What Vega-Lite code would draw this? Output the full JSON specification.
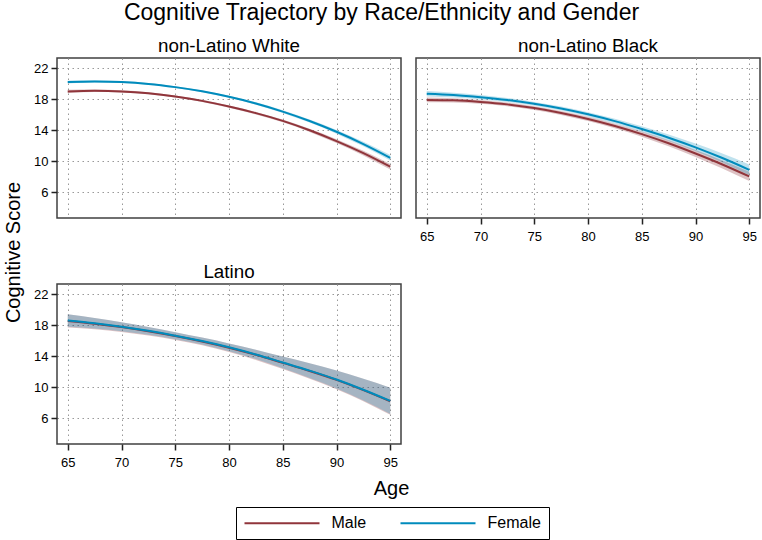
{
  "$schema": "https://vega.github.io/schema/vega-lite/v6.json",
  "padding": {"left": 2, "top": 2, "right": 0, "bottom": 0},
  "title": {"text": "Cognitive Trajectory by Race/Ethnicity and Gender", "fontSize": 23, "fontWeight": "normal", "anchor": "middle", "offset": 11, "color": "#000"},
  "data": {"values": [
    {"g":"W","s":"Male","age":65,"y":19.0,"lo":18.8,"hi":19.2},
    {"g":"W","s":"Male","age":67.5,"y":19.08,"lo":18.91,"hi":19.25},
    {"g":"W","s":"Male","age":70,"y":19.0,"lo":18.85,"hi":19.15},
    {"g":"W","s":"Male","age":72.5,"y":18.76,"lo":18.62,"hi":18.9},
    {"g":"W","s":"Male","age":75,"y":18.35,"lo":18.22,"hi":18.48},
    {"g":"W","s":"Male","age":77.5,"y":17.78,"lo":17.65,"hi":17.91},
    {"g":"W","s":"Male","age":80,"y":17.05,"lo":16.91,"hi":17.19},
    {"g":"W","s":"Male","age":82.5,"y":16.2,"lo":16.04,"hi":16.36},
    {"g":"W","s":"Male","age":85,"y":15.2,"lo":15.02,"hi":15.38},
    {"g":"W","s":"Male","age":87.5,"y":13.99,"lo":13.78,"hi":14.2},
    {"g":"W","s":"Male","age":90,"y":12.6,"lo":12.35,"hi":12.85},
    {"g":"W","s":"Male","age":92.5,"y":11.05,"lo":10.75,"hi":11.35},
    {"g":"W","s":"Male","age":95,"y":9.3,"lo":8.94,"hi":9.66},
    {"g":"W","s":"Female","age":65,"y":20.2,"lo":20.02,"hi":20.38},
    {"g":"W","s":"Female","age":67.5,"y":20.28,"lo":20.13,"hi":20.43},
    {"g":"W","s":"Female","age":70,"y":20.2,"lo":20.07,"hi":20.33},
    {"g":"W","s":"Female","age":72.5,"y":19.96,"lo":19.84,"hi":20.08},
    {"g":"W","s":"Female","age":75,"y":19.55,"lo":19.43,"hi":19.67},
    {"g":"W","s":"Female","age":77.5,"y":19.01,"lo":18.89,"hi":19.13},
    {"g":"W","s":"Female","age":80,"y":18.3,"lo":18.17,"hi":18.43},
    {"g":"W","s":"Female","age":82.5,"y":17.44,"lo":17.29,"hi":17.59},
    {"g":"W","s":"Female","age":85,"y":16.4,"lo":16.23,"hi":16.57},
    {"g":"W","s":"Female","age":87.5,"y":15.19,"lo":14.99,"hi":15.39},
    {"g":"W","s":"Female","age":90,"y":13.8,"lo":13.56,"hi":14.04},
    {"g":"W","s":"Female","age":92.5,"y":12.22,"lo":11.93,"hi":12.51},
    {"g":"W","s":"Female","age":95,"y":10.45,"lo":10.1,"hi":10.8},
    {"g":"B","s":"Male","age":65,"y":17.9,"lo":17.6,"hi":18.2},
    {"g":"B","s":"Male","age":67.5,"y":17.85,"lo":17.58,"hi":18.12},
    {"g":"B","s":"Male","age":70,"y":17.65,"lo":17.4,"hi":17.9},
    {"g":"B","s":"Male","age":72.5,"y":17.33,"lo":17.09,"hi":17.57},
    {"g":"B","s":"Male","age":75,"y":16.85,"lo":16.61,"hi":17.09},
    {"g":"B","s":"Male","age":77.5,"y":16.22,"lo":15.97,"hi":16.47},
    {"g":"B","s":"Male","age":80,"y":15.45,"lo":15.18,"hi":15.72},
    {"g":"B","s":"Male","age":82.5,"y":14.55,"lo":14.25,"hi":14.85},
    {"g":"B","s":"Male","age":85,"y":13.5,"lo":13.16,"hi":13.84},
    {"g":"B","s":"Male","age":87.5,"y":12.32,"lo":11.93,"hi":12.71},
    {"g":"B","s":"Male","age":90,"y":11.0,"lo":10.55,"hi":11.45},
    {"g":"B","s":"Male","age":92.5,"y":9.59,"lo":9.07,"hi":10.11},
    {"g":"B","s":"Male","age":95,"y":8.05,"lo":7.45,"hi":8.65},
    {"g":"B","s":"Female","age":65,"y":18.7,"lo":18.35,"hi":19.05},
    {"g":"B","s":"Female","age":67.5,"y":18.53,"lo":18.22,"hi":18.84},
    {"g":"B","s":"Female","age":70,"y":18.25,"lo":17.97,"hi":18.53},
    {"g":"B","s":"Female","age":72.5,"y":17.89,"lo":17.63,"hi":18.15},
    {"g":"B","s":"Female","age":75,"y":17.4,"lo":17.15,"hi":17.65},
    {"g":"B","s":"Female","age":77.5,"y":16.79,"lo":16.53,"hi":17.05},
    {"g":"B","s":"Female","age":80,"y":16.05,"lo":15.77,"hi":16.33},
    {"g":"B","s":"Female","age":82.5,"y":15.17,"lo":14.86,"hi":15.48},
    {"g":"B","s":"Female","age":85,"y":14.15,"lo":13.8,"hi":14.5},
    {"g":"B","s":"Female","age":87.5,"y":13.04,"lo":12.63,"hi":13.45},
    {"g":"B","s":"Female","age":90,"y":11.8,"lo":11.32,"hi":12.28},
    {"g":"B","s":"Female","age":92.5,"y":10.42,"lo":9.84,"hi":11.0},
    {"g":"B","s":"Female","age":95,"y":8.9,"lo":8.2,"hi":9.6},
    {"g":"L","s":"Male","age":65,"y":18.55,"lo":17.7,"hi":19.4},
    {"g":"L","s":"Male","age":67.5,"y":18.19,"lo":17.46,"hi":18.92},
    {"g":"L","s":"Male","age":70,"y":17.75,"lo":17.13,"hi":18.37},
    {"g":"L","s":"Male","age":72.5,"y":17.22,"lo":16.67,"hi":17.77},
    {"g":"L","s":"Male","age":75,"y":16.6,"lo":16.1,"hi":17.1},
    {"g":"L","s":"Male","age":77.5,"y":15.9,"lo":15.4,"hi":16.4},
    {"g":"L","s":"Male","age":80,"y":15.1,"lo":14.55,"hi":15.65},
    {"g":"L","s":"Male","age":82.5,"y":14.18,"lo":13.53,"hi":14.83},
    {"g":"L","s":"Male","age":85,"y":13.15,"lo":12.35,"hi":13.95},
    {"g":"L","s":"Male","age":87.5,"y":12.1,"lo":11.1,"hi":13.1},
    {"g":"L","s":"Male","age":90,"y":10.95,"lo":9.75,"hi":12.15},
    {"g":"L","s":"Male","age":92.5,"y":9.64,"lo":8.19,"hi":11.09},
    {"g":"L","s":"Male","age":95,"y":8.2,"lo":6.45,"hi":9.95},
    {"g":"L","s":"Female","age":65,"y":18.6,"lo":17.8,"hi":19.4},
    {"g":"L","s":"Female","age":67.5,"y":18.24,"lo":17.56,"hi":18.92},
    {"g":"L","s":"Female","age":70,"y":17.8,"lo":17.23,"hi":18.37},
    {"g":"L","s":"Female","age":72.5,"y":17.27,"lo":16.77,"hi":17.77},
    {"g":"L","s":"Female","age":75,"y":16.65,"lo":16.2,"hi":17.1},
    {"g":"L","s":"Female","age":77.5,"y":15.95,"lo":15.5,"hi":16.4},
    {"g":"L","s":"Female","age":80,"y":15.15,"lo":14.65,"hi":15.65},
    {"g":"L","s":"Female","age":82.5,"y":14.23,"lo":13.63,"hi":14.83},
    {"g":"L","s":"Female","age":85,"y":13.2,"lo":12.45,"hi":13.95},
    {"g":"L","s":"Female","age":87.5,"y":12.15,"lo":11.2,"hi":13.1},
    {"g":"L","s":"Female","age":90,"y":11.0,"lo":9.85,"hi":12.15},
    {"g":"L","s":"Female","age":92.5,"y":9.69,"lo":8.29,"hi":11.09},
    {"g":"L","s":"Female","age":95,"y":8.25,"lo":6.55,"hi":9.95}
  ]},
  "columns": 2,
  "spacing": {"row": 66, "column": 15},
  "bounds": "flush",
  "concat": [
    {
      "width": 344, "height": 160,
      "title": {"text": "non-Latino White", "fontSize": 18.8, "fontWeight": "normal", "offset": -13, "baseline": "alphabetic", "color": "#000"},
      "transform": [{"filter": "datum.g === 'W'"}],
      "encoding": {
        "x": {"field": "age", "type": "quantitative", "scale": {"domain": [64, 96], "nice": false},
              "axis": {"values": [65,70,75,80,85,90,95], "labels": false, "ticks": false, "title": null}},
        "y": {"field": "y", "type": "quantitative", "scale": {"domain": [2.7, 23.3], "nice": false, "zero": false},
              "axis": {"values": [6,10,14,18,22], "labelPadding": 3, "title": "Cognitive Score", "titleX": -38, "titleY": 194, "titleAlign": "center", "titleBaseline": "alphabetic", "titleAngle": 270}}
      },
      "layer": [
        {"transform": [{"filter": "datum.s === 'Male'"}],
         "mark": {"type": "area", "color": "#90353b", "opacity": 0.3, "interpolate": "monotone"},
         "encoding": {"y": {"field": "lo", "type": "quantitative"}, "y2": {"field": "hi"}}},
        {"transform": [{"filter": "datum.s === 'Female'"}],
         "mark": {"type": "area", "color": "#008bbc", "opacity": 0.25, "interpolate": "monotone"},
         "encoding": {"y": {"field": "lo", "type": "quantitative"}, "y2": {"field": "hi"}}},
        {"mark": {"type": "line", "strokeWidth": 2, "interpolate": "monotone"},
         "encoding": {"color": {"field": "s", "type": "nominal", "scale": {"domain": ["Male","Female"], "range": ["#90353b","#008bbc"]},
                      "legend": {"orient": "none", "legendX": 179, "legendY": 449, "direction": "horizontal", "title": null, "strokeColor": "#000", "padding": 7.5, "symbolType": "M-1,0H9", "symbolSize": 225, "symbolStrokeWidth": 2, "labelFontSize": 16, "labelOffset": 71, "columnPadding": 30, "labelColor": "#000"}}}}
      ]
    },
    {
      "width": 344, "height": 160,
      "title": {"text": "non-Latino Black", "fontSize": 18.8, "fontWeight": "normal", "offset": -13, "baseline": "alphabetic", "color": "#000"},
      "transform": [{"filter": "datum.g === 'B'"}],
      "encoding": {
        "x": {"field": "age", "type": "quantitative", "scale": {"domain": [64, 96], "nice": false},
              "axis": {"values": [65,70,75,80,85,90,95], "labelPadding": 6, "title": null}},
        "y": {"field": "y", "type": "quantitative", "scale": {"domain": [2.7, 23.3], "nice": false, "zero": false},
              "axis": {"values": [6,10,14,18,22], "labels": false, "ticks": false, "title": null}}
      },
      "layer": [
        {"transform": [{"filter": "datum.s === 'Male'"}],
         "mark": {"type": "area", "color": "#90353b", "opacity": 0.3, "interpolate": "monotone"},
         "encoding": {"y": {"field": "lo", "type": "quantitative"}, "y2": {"field": "hi"}}},
        {"transform": [{"filter": "datum.s === 'Female'"}],
         "mark": {"type": "area", "color": "#008bbc", "opacity": 0.25, "interpolate": "monotone"},
         "encoding": {"y": {"field": "lo", "type": "quantitative"}, "y2": {"field": "hi"}}},
        {"mark": {"type": "line", "strokeWidth": 2, "interpolate": "monotone"},
         "encoding": {"color": {"field": "s", "type": "nominal", "scale": {"domain": ["Male","Female"], "range": ["#90353b","#008bbc"]},
                      "legend": {"orient": "none", "legendX": 179, "legendY": 449, "direction": "horizontal", "title": null, "strokeColor": "#000", "padding": 7.5, "symbolType": "M-1,0H9", "symbolSize": 225, "symbolStrokeWidth": 2, "labelFontSize": 16, "labelOffset": 71, "columnPadding": 30, "labelColor": "#000"}}}}
      ]
    },
    {
      "width": 344, "height": 160,
      "title": {"text": "Latino", "fontSize": 18.8, "fontWeight": "normal", "offset": -13, "baseline": "alphabetic", "color": "#000"},
      "transform": [{"filter": "datum.g === 'L'"}],
      "encoding": {
        "x": {"field": "age", "type": "quantitative", "scale": {"domain": [64, 96], "nice": false},
              "axis": {"values": [65,70,75,80,85,90,95], "labelPadding": 6, "title": "Age", "titleX": 334, "titleY": 50, "titleAlign": "center", "titleBaseline": "alphabetic"}},
        "y": {"field": "y", "type": "quantitative", "scale": {"domain": [2.7, 23.3], "nice": false, "zero": false},
              "axis": {"values": [6,10,14,18,22], "labelPadding": 3, "title": null}}
      },
      "layer": [
        {"transform": [{"filter": "datum.s === 'Male'"}],
         "mark": {"type": "area", "color": "#90353b", "opacity": 0.3, "interpolate": "monotone"},
         "encoding": {"y": {"field": "lo", "type": "quantitative"}, "y2": {"field": "hi"}}},
        {"transform": [{"filter": "datum.s === 'Female'"}],
         "mark": {"type": "area", "color": "#008bbc", "opacity": 0.25, "interpolate": "monotone"},
         "encoding": {"y": {"field": "lo", "type": "quantitative"}, "y2": {"field": "hi"}}},
        {"mark": {"type": "line", "strokeWidth": 2, "interpolate": "monotone"},
         "encoding": {"color": {"field": "s", "type": "nominal", "scale": {"domain": ["Male","Female"], "range": ["#90353b","#008bbc"]},
                      "legend": {"orient": "none", "legendX": 179, "legendY": 449, "direction": "horizontal", "title": null, "strokeColor": "#000", "padding": 7.5, "symbolType": "M-1,0H9", "symbolSize": 225, "symbolStrokeWidth": 2, "labelFontSize": 16, "labelOffset": 71, "columnPadding": 30, "labelColor": "#000"}}}}
      ]
    }
  ],
  "config": {
    "font": "Liberation Sans",
    "view": {"stroke": "#404040", "strokeWidth": 1.5},
    "axis": {"grid": true, "gridColor": "#999", "gridDash": [1.5, 3.5], "gridWidth": 1, "domain": false,
             "tickColor": "#222", "tickWidth": 1.5, "tickSize": 6, "labelFontSize": 13, "labelColor": "#000",
             "titleFontSize": 20, "titleFontWeight": "normal", "titleColor": "#000"}
  }
}
